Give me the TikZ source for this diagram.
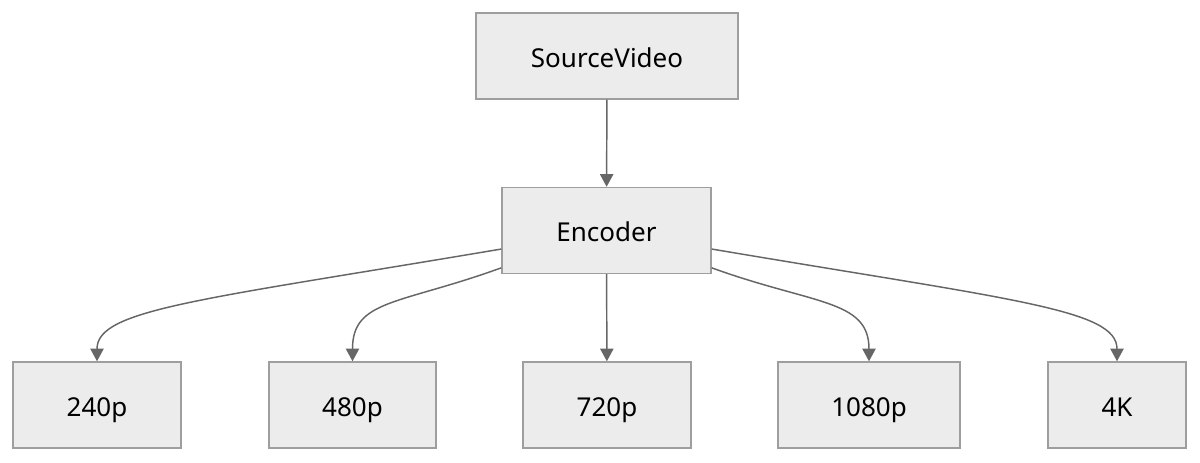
\documentclass[tikz,border=0pt]{standalone}
\usepackage{fontspec}
\setmainfont{Noto Sans}
\usetikzlibrary{arrows.meta}

\definecolor{boxfill}{RGB}{236,236,236}
\definecolor{boxline}{RGB}{158,158,158}
\definecolor{edgeline}{RGB}{102,102,102}

\tikzset{
    box/.style = {draw = boxline, fill = boxfill, line width = 1.1pt,
        minimum height = 64.5pt, inner sep = 0pt,
        text height = 19pt, text depth = 2pt,
        font = \fontsize{19.5}{23}\selectfont},
    edge/.style = {draw = edgeline, line width = 1.1pt,
        -{Triangle[width = 10pt, length = 9.5pt]}}
}

\begin{document}
\begin{tikzpicture}[x = 0.75pt, y = -0.75pt]
    \useasboundingbox (0, 0) rectangle (1200, 462);

    % source and encoder
    \node [box, minimum width = 196.5pt] (src) at (607, 56) {SourceVideo};
    \node [box, minimum width = 156.75pt] (enc) at (606.5, 230.5) {Encoder};

    % renditions
    \node [box, minimum width = 126pt] (p240) at (97, 405) {240p};
    \node [box, minimum width = 125.25pt] (p480) at (352.5, 405) {480p};
    \node [box, minimum width = 126pt] (p720) at (607, 405) {720p};
    \node [box, minimum width = 136.5pt] (p1080) at (869, 405) {1080p};
    \node [box, minimum width = 103.5pt] (p4k) at (1117, 405) {4K};

    % straight connections
    \draw [edge] (src) -- (enc);
    \draw [edge] (enc) -- (p720);

    % curved connections to the left
    \draw [edge] ([yshift = -13.9pt]enc.west)
        .. controls +(-302, 51) and +(0, -52) .. (p240.north);
    \draw [edge] ([yshift = -28pt]enc.west)
        .. controls +(-102, 37) and +(0, -62) .. (p480.north);

    % curved connections to the right
    \draw [edge] ([yshift = -28pt]enc.east)
        .. controls +(102, 37) and +(0, -62) .. (p1080.north);
    \draw [edge] ([yshift = -13.9pt]enc.east)
        .. controls +(302, 51) and +(0, -52) .. (p4k.north);
\end{tikzpicture}
\end{document}
